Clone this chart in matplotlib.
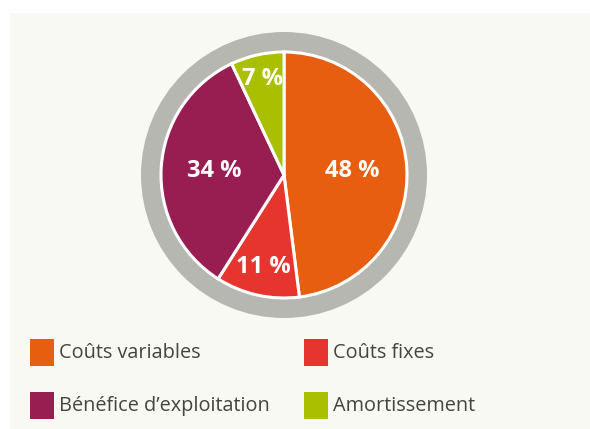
import matplotlib.pyplot as plt
from matplotlib.patches import Rectangle, Circle
import numpy as np

# parts of the result
categories = ["Coûts variables", "Coûts fixes", "Bénéfice d’exploitation", "Amortissement"]
values = [48, 11, 34, 7]
colors = ["#e85e10", "#e5352e", "#981e52", "#aabf00"]
label_dist = [0.56, 0.77, 0.57, 0.80]

W, H = 590, 429
fig = plt.figure(figsize=(W / 100, H / 100), dpi=100, facecolor="white")
ax = fig.add_axes([0, 0, 1, 1])
ax.set_xlim(0, W)
ax.set_ylim(0, H)
ax.axis("off")

# cream panel
ax.add_patch(Rectangle((10, 0), W - 10, H - 13, facecolor="#f9f9f4", edgecolor="none", zorder=0))

cx, cy = 284, H - 175
ax.add_patch(Circle((cx, cy), 143, facecolor="#b6b7b0", edgecolor="none", zorder=1))

wedges, _ = ax.pie(values, colors=colors, startangle=90, counterclock=False,
                   center=(cx, cy), radius=123, frame=True,
                   wedgeprops=dict(edgecolor="white", linewidth=2.2, zorder=2))
ax.set_xlim(0, W)
ax.set_ylim(0, H)
ax.set_aspect("equal")
ax.axis("off")

for w, v, d in zip(wedges, values, label_dist):
    mid = np.deg2rad((w.theta1 + w.theta2) / 2)
    x = cx + 123 * d * np.cos(mid)
    y = cy + 123 * d * np.sin(mid)
    ax.text(x, y, f"{v} %", color="white", fontsize=17, fontweight="bold",
            family="Open Sans", ha="center", va="center", zorder=3)

# legend
col_x = [30, 304]
row_y = [H - 353, H - 406]
for i, (lab, c) in enumerate(zip(categories, colors)):
    x0 = col_x[i % 2]
    y0 = row_y[i // 2]
    ax.add_patch(Rectangle((x0, y0 - 13), 24, 27, facecolor=c, edgecolor="none", zorder=2))
    ax.text(x0 + 29, y0, lab, color="#45453f", fontsize=14.3, family="Open Sans",
            ha="left", va="center", zorder=3)

fig.savefig("out.png", dpi=100, facecolor="white")
